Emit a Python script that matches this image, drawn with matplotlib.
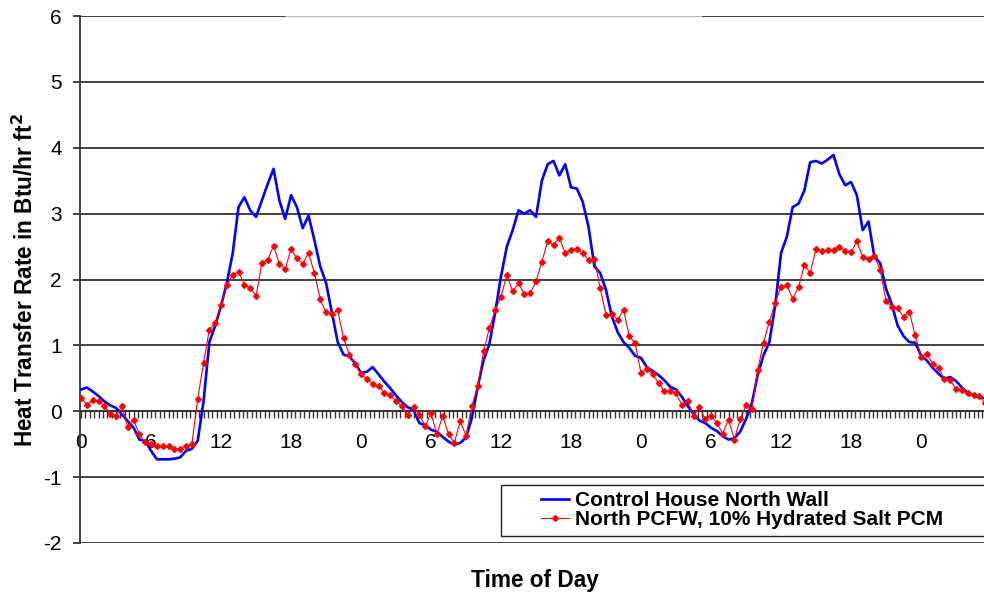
import numpy as np
import matplotlib
matplotlib.use('Agg')
import matplotlib.pyplot as plt
from matplotlib.patches import Rectangle

plt.rcParams['font.family'] = ['Liberation Sans', 'DejaVu Sans']
plt.rcParams['axes.unicode_minus'] = False

# half-hour readings, hour 0 = midnight of the first day
hours = np.arange(156) * 0.5

control_wall = [
    0.33, 0.36, 0.30, 0.23, 0.15, 0.09, 0.05, -0.05, -0.15, -0.25, -0.43, -0.45,
    -0.60, -0.73, -0.73, -0.73, -0.72, -0.70, -0.60, -0.57, -0.45, 0.15, 1.05, 1.30,
    1.60, 1.95, 2.40, 3.10, 3.25, 3.05, 2.95, 3.20, 3.45, 3.68, 3.20, 2.92,
    3.28, 3.10, 2.78, 2.97, 2.60, 2.20, 1.95, 1.50, 1.05, 0.86, 0.83, 0.73,
    0.58, 0.60, 0.67, 0.56, 0.45, 0.35, 0.24, 0.14, 0.06, 0.02, -0.18, -0.21,
    -0.28, -0.31, -0.39, -0.46, -0.51, -0.48, -0.40, -0.10, 0.37, 0.77, 1.02, 1.50,
    2.05, 2.50, 2.75, 3.05, 3.00, 3.05, 2.95, 3.50, 3.75, 3.80, 3.58, 3.75,
    3.40, 3.38, 3.18, 2.80, 2.20, 2.10, 1.84, 1.44, 1.20, 1.05, 0.96, 0.84,
    0.81, 0.67, 0.61, 0.55, 0.47, 0.37, 0.33, 0.22, 0.08, -0.04, -0.14, -0.18,
    -0.25, -0.30, -0.38, -0.43, -0.41, -0.31, -0.12, 0.12, 0.55, 0.85, 1.05, 1.60,
    2.40, 2.65, 3.10, 3.15, 3.35, 3.78, 3.80, 3.76, 3.82, 3.89, 3.60, 3.43,
    3.48, 3.28, 2.75, 2.88, 2.35, 2.25, 1.86, 1.62, 1.30, 1.14, 1.05, 1.04,
    0.85, 0.77, 0.66, 0.57, 0.49, 0.52, 0.46, 0.36, 0.28, 0.24, 0.21, 0.20,
]

pcm_wall = [
    0.20, 0.10, 0.17, 0.15, 0.08, -0.04, -0.07, 0.08, -0.24, -0.13, -0.35, -0.47,
    -0.49, -0.52, -0.53, -0.53, -0.58, -0.57, -0.52, -0.50, 0.19, 0.73, 1.24, 1.34,
    1.61, 1.91, 2.07, 2.12, 1.92, 1.87, 1.75, 2.25, 2.30, 2.51, 2.24, 2.16,
    2.46, 2.32, 2.24, 2.40, 2.10, 1.70, 1.50, 1.48, 1.53, 1.11, 0.86, 0.72,
    0.56, 0.49, 0.42, 0.39, 0.28, 0.25, 0.15, 0.08, -0.05, 0.06, -0.05, -0.23,
    -0.03, -0.35, -0.07, -0.35, -0.48, -0.15, -0.37, 0.08, 0.38, 0.91, 1.26, 1.54,
    1.74, 2.07, 1.82, 1.94, 1.78, 1.79, 1.97, 2.27, 2.58, 2.53, 2.63, 2.40,
    2.45, 2.47, 2.40, 2.30, 2.31, 1.87, 1.46, 1.48, 1.39, 1.54, 1.14, 1.03,
    0.58, 0.64, 0.56, 0.43, 0.30, 0.30, 0.27, 0.10, 0.15, -0.07, 0.06, -0.12,
    -0.07, -0.18, -0.34, -0.13, -0.43, -0.12, 0.09, 0.04, 0.63, 1.04, 1.36, 1.65,
    1.89, 1.91, 1.71, 1.88, 2.22, 2.10, 2.46, 2.43, 2.45, 2.45, 2.49, 2.44,
    2.41, 2.58, 2.34, 2.31, 2.35, 2.15, 1.67, 1.59, 1.57, 1.43, 1.51, 1.15,
    0.83, 0.87, 0.72, 0.66, 0.49, 0.47, 0.34, 0.32, 0.27, 0.25, 0.23, 0.12,
]

day_ticks = np.arange(0, 73, 6)
day_labels = ['0', '6', '12', '18'] * 3 + ['0']

labels = ['Control House North Wall', 'North PCFW, 10% Hydrated Salt PCM']

W, H = 984, 597
fig = plt.figure(figsize=(W / 100, H / 100), dpi=100)
ax = fig.add_axes([80 / W, 54 / H, 904 / W, 527 / H])
ax.set_xlim(-0.09, 77.4)
ax.set_ylim(-2, 6)

grid_col = '#333333'
for y in range(-2, 6):
    ax.axhline(y, color=grid_col, lw=1.3, zorder=1)
# top line is broken into a dark / pale / dark run
ax.axhline(6, xmin=0, xmax=0.228, color=grid_col, lw=1.3, zorder=1)
ax.axhline(6, xmin=0.228, xmax=0.689, color='#b4b4b4', lw=1.0, zorder=1)
ax.axhline(6, xmin=0.689, xmax=1, color=grid_col, lw=1.3, zorder=1)

l1, = ax.plot(hours, control_wall, color='#0000ff', lw=1.9, zorder=3)
l2, = ax.plot(hours, pcm_wall, color='#ff0000', lw=0.8, marker='D',
              markersize=3.0, zorder=4)

for s in ['top', 'right']:
    ax.spines[s].set_visible(False)
ax.spines['left'].set_color(grid_col)
ax.spines['left'].set_linewidth(1.3)
ax.spines['bottom'].set_position(('data', 0))
ax.spines['bottom'].set_color(grid_col)
ax.spines['bottom'].set_linewidth(1.3)

ax.set_yticks(range(-2, 7))
ax.tick_params(axis='y', direction='out', length=5, width=1.3, color=grid_col,
               labelsize=15, pad=8)
ax.set_xticks(day_ticks)
ax.set_xticklabels(day_labels)
ax.set_xticks(np.arange(0, 77.4, 0.375), minor=True)
ax.tick_params(axis='x', which='both', direction='out', length=5, width=1.0,
               color=grid_col, labelsize=15, pad=11)

fig.text(25 / W, 1 - 280 / H, 'Heat Transfer Rate in Btu/hr ft$^\\mathbf{2}$',
         rotation=90, ha='center', va='center', fontsize=16.3, fontweight='bold')
fig.text(535 / W, 1 - 580 / H, 'Time of Day', ha='center', va='center',
         fontsize=16.3, fontweight='bold')

frame = Rectangle((501 / W, 1 - 536 / H), 0.6, 51 / H, transform=fig.transFigure,
                  facecolor='white', edgecolor='#222222', lw=1.0, zorder=4)
fig.add_artist(frame)
fig.legend([l1, l2], labels, loc='center left',
           bbox_to_anchor=(541 / W, 1 - 510 / H), frameon=False,
           prop={'weight': 'bold', 'size': 15}, handlelength=1.35,
           handletextpad=0.3, labelspacing=0.0, borderpad=0, borderaxespad=0)

fig.savefig('out.png', dpi=100)
